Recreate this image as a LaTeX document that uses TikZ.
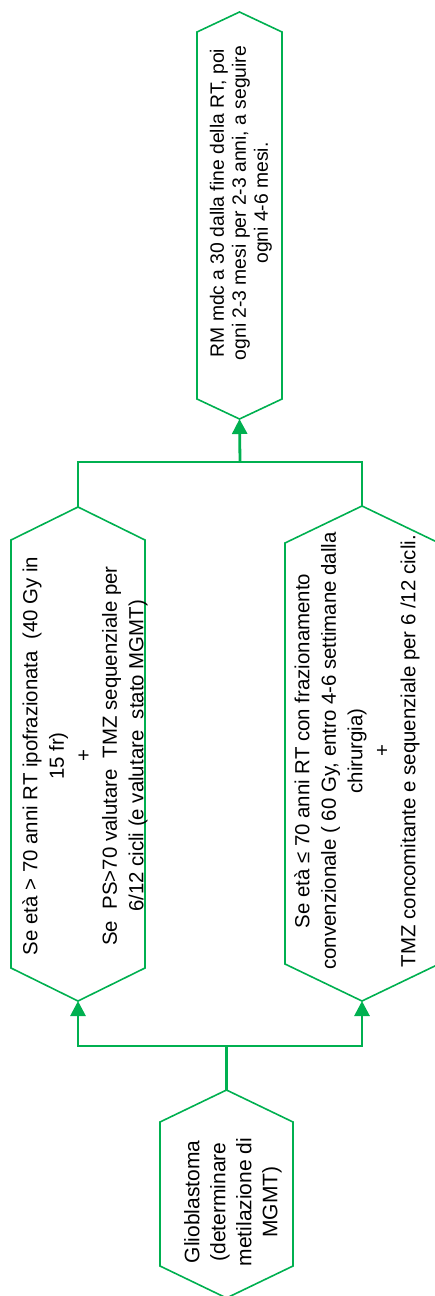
\documentclass[tikz,border=0pt]{standalone}
\usepackage{fontspec}
\setmainfont{Liberation Sans}
\usetikzlibrary{arrows.meta}
\definecolor{flowgreen}{RGB}{0,176,80}

% Elongated hexagon: name, centre x, half width, top apex, top corners, bottom corners, bottom apex
\newcommand\flowhex[7]{%
  \draw[hexline] (#2,#4) -- (#2+#3,#5) -- (#2+#3,#6) -- (#2,#7)
    -- (#2-#3,#6) -- (#2-#3,#5) -- cycle;
  \coordinate (#1-top) at (#2,#4);
  \coordinate (#1-bot) at (#2,#7);}

\begin{document}
\begin{tikzpicture}[x=1pt,y=-1pt,
  hexline/.style={draw=flowgreen, line width=1.6pt, line join=miter},
  conn/.style={draw=flowgreen, line width=2.8pt},
  arr/.style={conn, -{Triangle[length=15pt,width=15pt]}},
  boxtext/.style={rotate=90, align=center, inner sep=0pt,
    font=\fontsize{20.4}{26.5}\selectfont},
  glitext/.style={boxtext, font=\fontsize{21}{26}\selectfont},
  smalltext/.style={boxtext, font=\fontsize{19.3}{22}\selectfont}]
\useasboundingbox (0,0) rectangle (434,1296);

% shapes
\flowhex{glio}{226.5}{66.5}{1090}{1122}{1266}{1298}
\flowhex{hypo}{78}{67}{507}{540}{968}{1001}
\flowhex{conv}{362}{77}{506}{543}{964}{1001}
\flowhex{fup}{239.5}{42.5}{12}{32}{399}{419}

% texts
\node[glitext] (glio-txt) at (233,1202)
  {Glioblastoma\\(determinare\\metilazione di\\MGMT)};
\node[boxtext] (hypo-txt) at (85,756)
  {Se età > 70 anni RT ipofrazionata \ (40 Gy in\\15 fr)\\+\\Se \ PS>70 valutare \ TMZ sequenziale per\\6/12 cicli (e valutare \ stato MGMT)};
\node[boxtext] (conv-txt) at (357,751)
  {Se età ≤ 70 anni RT con frazionamento\\convenzionale ( 60 Gy, entro 4-6 settimane dalla\\chirurgia)\\+\\TMZ concomitante e sequenziale per 6 /12 cicli.};
\node[smalltext] (fup-txt) at (241,203)
  {RM mdc a 30 dalla fine della RT, poi\\ogni 2-3 mesi per 2-3 anni, a seguire\\ogni 4-6 mesi.};

% connectors
\coordinate (split) at (226.5,1046);
\coordinate (merge) at (240,462);
\draw[conn] (glio-top) -- (split);
\draw[arr] (split) -| (hypo-bot);
\draw[arr] (split) -| (conv-bot);
\draw[conn] (hypo-top) |- (merge);
\draw[conn] (conv-top) |- (merge);
\draw[arr] (merge) -- (fup-bot);
\end{tikzpicture}
\end{document}
